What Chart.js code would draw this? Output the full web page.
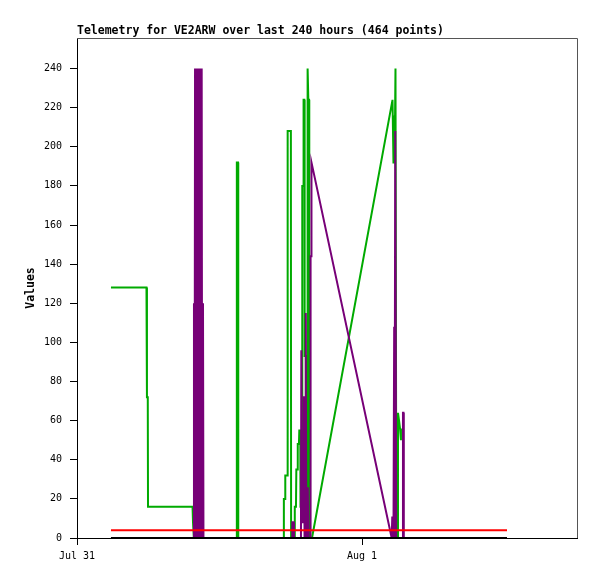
<!DOCTYPE html>
<html>
<head>
<meta charset="utf-8">
<script src="https://cdn.jsdelivr.net/npm/chart.js@4.4.1/dist/chart.umd.min.js"></script>
<style>
  body { margin: 0; background: #fff; }
  canvas { display: block; }
</style>
</head>
<body>
<canvas id="myChart" width="597" height="579"></canvas>
<script>
// hours since Jul 31 00:00
const chartTitle = "Telemetry for VE2ARW over last 240 hours (464 points)";
const xTickHours = [0, 24];
const xTickLabels = ["Jul 31", "Aug 1"];
const yTicks = [0, 20, 40, 60, 80, 100, 120, 140, 160, 180, 200, 220, 240];

const greenHours = [2.86, 5.85, 5.89, 5.96, 5.98, 9.73, 9.77, 9.83, 9.85, 13.43, 13.46, 13.56, 13.58,
  17.39, 17.42, 17.52, 17.54, 17.71, 17.74, 18.01, 18.03, 18.32, 18.34, 18.44, 18.47, 18.57, 18.59,
  18.69, 18.72, 18.80, 18.82, 18.95, 18.97, 19.06, 19.08, 19.14, 19.17, 19.27, 19.29, 19.37, 19.39,
  19.45, 19.48, 19.54, 19.56, 19.79, 26.57, 26.61, 26.65, 26.69, 26.76, 26.82, 26.86, 26.89, 27.01,
  27.03, 27.12, 27.20, 27.28];
const greenValues = [128, 128, 72, 72, 16, 16, 8, 8, 0, 0, 192, 192, 0,
  0, 20, 20, 32, 32, 208, 208, 0, 0, 16, 16, 35, 35, 48,
  48, 55, 55, 16, 16, 180, 180, 224, 224, 93, 93, 12, 12, 240,
  240, 224, 224, 0, 0, 224, 224, 192, 216, 200, 240, 240, 0, 0,
  64, 60, 56, 50];

const purpleHours = [2.86, 9.81, 9.85, 9.90, 9.94, 9.98, 10.02, 10.06, 10.11, 10.15, 10.19, 10.23,
  10.27, 10.32, 10.36, 10.40, 10.44, 10.47, 10.50, 10.54, 10.61, 10.65, 18.11, 18.13, 18.25, 18.27,
  18.86, 18.89, 18.93, 18.96, 19.07, 19.10, 19.13, 19.16, 19.22, 19.25, 19.28, 19.31, 19.39, 19.42,
  19.45, 19.48, 19.65, 19.67, 19.71, 19.72, 19.77, 26.50, 26.55, 26.61, 26.65, 26.71, 26.74, 26.80,
  26.84, 26.88, 27.43, 27.45, 27.49, 27.52, 36.21];
const purpleValues = [0, 0, 120, 0, 240, 0, 240, 0, 240, 0, 240, 0,
  240, 0, 240, 0, 240, 0, 240, 0, 120, 0, 0, 8, 8, 0,
  0, 96, 96, 8, 8, 72, 72, 0, 0, 115, 115, 0, 0, 26,
  26, 0, 0, 144, 144, 192, 192, 0, 11, 11, 0, 108, 0, 208,
  208, 0, 0, 64, 64, 0, 0];

const redHours = [2.86, 36.21];
const redValues = [4, 4];
const blackHours = [2.86, 36.21];
const blackValues = [0, 0];

const mono = "'DejaVu Sans Mono', 'Liberation Mono', monospace";

function points(hours, values) {
  return hours.map((h, i) => ({ x: h, y: values[i] }));
}

function series(hours, values, color) {
  return {
    data: points(hours, values),
    borderColor: color,
    borderWidth: 2,
    pointRadius: 0,
    tension: 0,
    fill: false,
  };
}

const framePlugin = {
  id: "frame",
  beforeDatasetsDraw(chart) {
    const { ctx, chartArea: a } = chart;
    ctx.save();
    ctx.strokeStyle = "#555";
    ctx.lineWidth = 1;
    ctx.beginPath();
    ctx.moveTo(a.left, a.top + 0.5);
    ctx.lineTo(a.right + 0.5, a.top + 0.5);
    ctx.lineTo(a.right + 0.5, a.bottom);
    ctx.stroke();
    ctx.font = "bold 11.5px " + mono;
    ctx.fillStyle = "#000";
    ctx.textBaseline = "alphabetic";
    ctx.fillText(chartTitle, a.left, a.top - 4);
    ctx.restore();
  },
};

const chart = new Chart(document.getElementById("myChart"), {
  type: "line",
  data: {
    datasets: [
      series(blackHours, blackValues, "#000000"),
      series(redHours, redValues, "#ff0000"),
      series(purpleHours, purpleValues, "#770077"),
      series(greenHours, greenValues, "#00aa00"),
    ],
  },
  options: {
    responsive: false,
    animation: false,
    layout: { padding: { top: 38, right: 20, left: 0, bottom: 0 } },
    plugins: { legend: { display: false }, tooltip: { enabled: false } },
    scales: {
      x: {
        type: "linear",
        min: 0,
        max: 42.105,
        afterFit(scale) { scale.height = 41; },
        afterBuildTicks(scale) { scale.ticks = xTickHours.map(v => ({ value: v })); },
        ticks: {
          callback: (v, i) => xTickLabels[i],
          font: { family: mono, size: 10 },
          color: "#000",
          padding: 5,
          maxRotation: 0,
          autoSkip: false,
        },
        grid: { drawOnChartArea: false, tickLength: 7, color: "#000" },
        border: { color: "#000" },
      },
      y: {
        min: 0,
        max: 255.6,
        afterFit(scale) { scale.width = 77; },
        afterBuildTicks(scale) { scale.ticks = yTicks.map(v => ({ value: v })); },
        ticks: { font: { family: mono, size: 10 }, color: "#000", padding: 8 },
        grid: { drawOnChartArea: false, tickLength: 7, color: "#000" },
        border: { color: "#000" },
        title: {
          display: true,
          text: "Values",
          font: { family: mono, size: 11.5, weight: "bold" },
          color: "#000",
          padding: { top: 24, bottom: 0 },
        },
      },
    },
  },
  plugins: [framePlugin],
});
</script>
</body>
</html>
